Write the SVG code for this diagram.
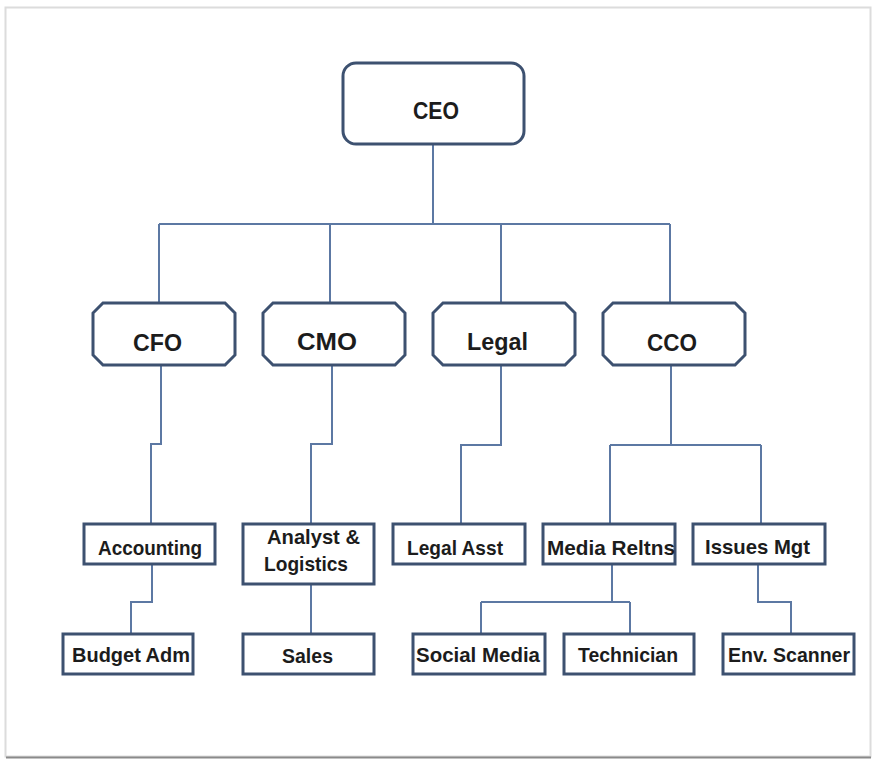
<svg xmlns="http://www.w3.org/2000/svg" width="875" height="761" viewBox="0 0 875 761">
<style>
.box{fill:#ffffff;stroke:#3d5170;stroke-width:3}
.conn{fill:none;stroke:#5c78a3;stroke-width:2}
text{font-family:"Liberation Sans",Arial,sans-serif;font-weight:bold;fill:#1c1c1c}
.l1{font-size:23px}
.l2{font-size:24px}
.l3{font-size:21px}
</style>
<rect x="0" y="0" width="875" height="761" fill="#ffffff"/>
<rect x="5.5" y="7.5" width="865" height="749" fill="none" stroke="#dcdcdc" stroke-width="2"/>
<line x1="6" y1="757.5" x2="871" y2="757.5" stroke="#8a8a8a" stroke-width="2"/>
<g id="connectors">
<path class="conn" d="M433,144 V224 M159,224 H670 M159,224 V303 M330,224 V303 M501,224 V303 M670,224 V303"/>
<path class="conn" d="M161,365 V444 H151 V524"/>
<path class="conn" d="M332,365 V444 H311 V524"/>
<path class="conn" d="M501,365 V445 H461 V524"/>
<path class="conn" d="M671,365 V445 M610,445 H761 M610,445 V524 M761,445 V524"/>
<path class="conn" d="M152,564 V602 H131 V634"/>
<path class="conn" d="M311,584 V634"/>
<path class="conn" d="M612,564 V602 M481,602 H630 M481,602 V634 M630,602 V634"/>
<path class="conn" d="M758,564 V602 H791 V634"/>
</g>
<g id="ceo">
<rect class="box" x="343" y="63" width="181" height="81" rx="13"/>
<text class="l1" x="413" y="119" textLength="46" lengthAdjust="spacingAndGlyphs">CEO</text>
</g>
<g id="cfo">
<path class="box" d="M103,303 H225 L235,313 V355 L225,365 H103 L93,355 V313 Z"/>
<text class="l2" x="133" y="351" textLength="49" lengthAdjust="spacingAndGlyphs">CFO</text>
</g>
<g id="cmo">
<path class="box" d="M273,303 H395 L405,313 V355 L395,365 H273 L263,355 V313 Z"/>
<text class="l2" x="297" y="350" textLength="60" lengthAdjust="spacingAndGlyphs">CMO</text>
</g>
<g id="legal">
<path class="box" d="M443,303 H565 L575,313 V355 L565,365 H443 L433,355 V313 Z"/>
<text class="l2" x="467" y="350" textLength="61" lengthAdjust="spacingAndGlyphs">Legal</text>
</g>
<g id="cco">
<path class="box" d="M613,303 H735 L745,313 V355 L735,365 H613 L603,355 V313 Z"/>
<text class="l2" x="647" y="351" textLength="50" lengthAdjust="spacingAndGlyphs">CCO</text>
</g>
<g id="accounting">
<rect class="box" x="84" y="524" width="131" height="40"/>
<text class="l3" x="98" y="555" textLength="104" lengthAdjust="spacingAndGlyphs">Accounting</text>
</g>
<g id="analyst">
<rect class="box" x="243" y="524" width="131" height="60"/>
<text class="l3" x="267" y="544" textLength="93" lengthAdjust="spacingAndGlyphs">Analyst &amp;</text>
<text class="l3" x="264" y="571" textLength="84" lengthAdjust="spacingAndGlyphs">Logistics</text>
</g>
<g id="legal-asst">
<rect class="box" x="393" y="524" width="132" height="40"/>
<text class="l3" x="407" y="555" textLength="96" lengthAdjust="spacingAndGlyphs">Legal Asst</text>
</g>
<g id="media-reltns">
<rect class="box" x="543" y="524" width="132" height="40"/>
<text class="l3" x="547" y="555" textLength="128" lengthAdjust="spacingAndGlyphs">Media Reltns</text>
</g>
<g id="issues-mgt">
<rect class="box" x="693" y="524" width="132" height="40"/>
<text class="l3" x="705" y="554" textLength="105" lengthAdjust="spacingAndGlyphs">Issues Mgt</text>
</g>
<g id="budget-adm">
<rect class="box" x="63" y="634" width="130" height="40"/>
<text class="l3" x="72" y="662" textLength="118" lengthAdjust="spacingAndGlyphs">Budget Adm</text>
</g>
<g id="sales">
<rect class="box" x="243" y="634" width="131" height="40"/>
<text class="l3" x="282" y="663" textLength="51" lengthAdjust="spacingAndGlyphs">Sales</text>
</g>
<g id="social-media">
<rect class="box" x="413" y="634" width="132" height="40"/>
<text class="l3" x="416" y="662" textLength="124" lengthAdjust="spacingAndGlyphs">Social Media</text>
</g>
<g id="technician">
<rect class="box" x="564" y="634" width="130" height="40"/>
<text class="l3" x="578" y="662" textLength="100" lengthAdjust="spacingAndGlyphs">Technician</text>
</g>
<g id="env-scanner">
<rect class="box" x="723" y="634" width="131" height="40"/>
<text class="l3" x="728" y="662" textLength="122" lengthAdjust="spacingAndGlyphs">Env. Scanner</text>
</g>
</svg>
